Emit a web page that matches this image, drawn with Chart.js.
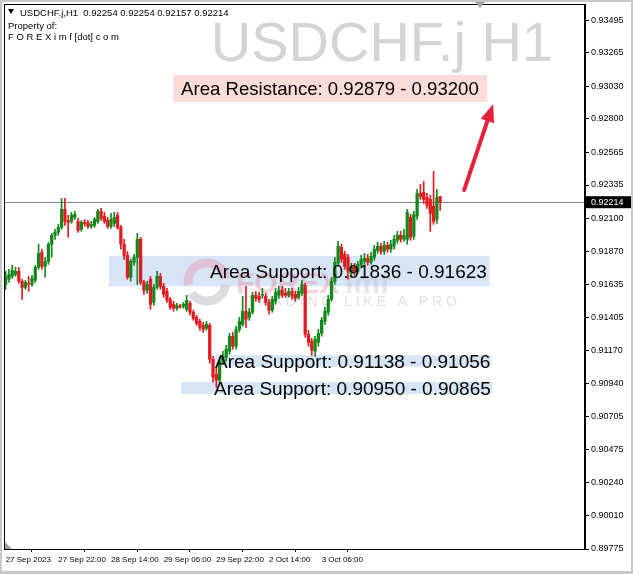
<!DOCTYPE html>
<html>
<head>
<meta charset="utf-8">
<script src="https://cdn.jsdelivr.net/npm/chart.js@4.4.0/dist/chart.umd.min.js"></script>
<style>
  html, body { margin: 0; padding: 0; background: #fff; }
</style>
</head>
<body>
<canvas id="dadosGrafico" width="633" height="574"></canvas>
<script>
// USDCHF.j H1
var openP = [0.91636,0.91672,0.91693,0.91707,0.91728,0.91658,0.91615,0.91643,0.91636,0.91665,
  0.91756,0.91861,0.91763,0.91798,0.91918,0.91981,0.92002,0.92037,0.92164,0.92086,
  0.92079,0.92107,0.92079,0.92023,0.92072,0.92072,0.92044,0.92051,0.92079,0.92150,
  0.92115,0.92086,0.92044,0.92065,0.92122,0.92037,0.91918,0.91840,0.91686,0.91791,
  0.91826,0.91953,0.91650,0.91594,0.91672,0.91510,0.91615,0.91693,0.91622,0.91587,
  0.91531,0.91496,0.91468,0.91482,0.91482,0.91461,0.91503,0.91440,0.91404,0.91376,
  0.91348,0.91327,0.91348,0.91109,0.91004,0.90962,0.91095,0.91123,0.91166,0.91271,
  0.91201,0.91320,0.91355,0.91447,0.91404,0.91440,0.91559,0.91552,0.91559,0.91552,
  0.91510,0.91454,0.91517,0.91559,0.91594,0.91573,0.91559,0.91587,0.91566,0.91545,
  0.91573,0.91629,0.91285,0.91236,0.91166,0.91229,0.91292,0.91376,0.91440,0.91531,
  0.91658,0.91784,0.91897,0.91847,0.91826,0.91714,0.91756,0.91728,0.91770,0.91798,
  0.91819,0.91791,0.91826,0.91875,0.91904,0.91868,0.91911,0.91883,0.91904,0.91946,
  0.91981,0.91953,0.91953,0.92107,0.91974,0.92115,0.92276,0.92283,0.92248,0.92234,
  0.92185,0.92093,0.92254];
var highP = [0.91728,0.91742,0.91770,0.91756,0.91756,0.91672,0.91665,0.91693,0.91700,0.91770,
  0.91918,0.91883,0.91826,0.91932,0.91995,0.92023,0.92058,0.92241,0.92241,0.92122,
  0.92143,0.92150,0.92100,0.92086,0.92093,0.92086,0.92079,0.92107,0.92164,0.92171,
  0.92143,0.92107,0.92136,0.92143,0.92143,0.92051,0.91953,0.91868,0.91812,0.91847,
  0.91995,0.91967,0.91665,0.91658,0.91693,0.91636,0.91728,0.91714,0.91643,0.91608,
  0.91545,0.91517,0.91503,0.91496,0.91510,0.91559,0.91517,0.91454,0.91419,0.91390,
  0.91369,0.91376,0.91362,0.91130,0.91053,0.91123,0.91166,0.91208,0.91292,0.91299,
  0.91341,0.91404,0.91552,0.91622,0.91468,0.91580,0.91587,0.91580,0.91608,0.91573,
  0.91531,0.91552,0.91608,0.91622,0.91622,0.91608,0.91608,0.91608,0.91587,0.91615,
  0.91665,0.91643,0.91313,0.91257,0.91271,0.91320,0.91404,0.91475,0.91559,0.91686,
  0.91826,0.91939,0.91918,0.91868,0.91847,0.91784,0.91784,0.91798,0.91840,0.91854,
  0.91847,0.91861,0.91911,0.91932,0.91925,0.91939,0.91932,0.91946,0.91981,0.92009,
  0.92009,0.92023,0.92164,0.92129,0.92150,0.92304,0.92339,0.92361,0.92276,0.92262,
  0.92431,0.92304,0.92254];
var lowP = [0.91601,0.91650,0.91679,0.91693,0.91643,0.91531,0.91601,0.91587,0.91622,0.91650,
  0.91742,0.91742,0.91686,0.91777,0.91826,0.91953,0.91981,0.92023,0.92051,0.91967,
  0.92065,0.92093,0.92002,0.92009,0.92044,0.92030,0.92030,0.92037,0.92065,0.92086,
  0.92065,0.92030,0.92030,0.92044,0.92023,0.91883,0.91812,0.91672,0.91658,0.91770,
  0.91636,0.91636,0.91566,0.91573,0.91461,0.91489,0.91601,0.91601,0.91545,0.91510,
  0.91461,0.91447,0.91454,0.91468,0.91468,0.91447,0.91419,0.91383,0.91348,0.91313,
  0.91299,0.91313,0.91081,0.90948,0.90912,0.90941,0.91074,0.91095,0.91145,0.91180,
  0.91180,0.91299,0.91341,0.91334,0.91383,0.91426,0.91517,0.91510,0.91538,0.91489,
  0.91426,0.91440,0.91496,0.91538,0.91545,0.91545,0.91545,0.91531,0.91517,0.91531,
  0.91559,0.91264,0.91201,0.91137,0.91130,0.91201,0.91271,0.91355,0.91419,0.91517,
  0.91636,0.91770,0.91791,0.91742,0.91672,0.91686,0.91700,0.91714,0.91756,0.91777,
  0.91770,0.91777,0.91805,0.91854,0.91847,0.91847,0.91861,0.91861,0.91883,0.91925,
  0.91932,0.91939,0.91918,0.91946,0.91953,0.92093,0.92234,0.92206,0.92171,0.92009,
  0.92058,0.92065,0.92157];
var closeP = [0.91693,0.91707,0.91735,0.91728,0.91658,0.91615,0.91650,0.91636,0.91679,0.91756,
  0.91854,0.91763,0.91798,0.91918,0.91981,0.92002,0.92037,0.92164,0.92079,0.92072,
  0.92122,0.92129,0.92016,0.92072,0.92065,0.92044,0.92058,0.92093,0.92150,0.92100,
  0.92079,0.92044,0.92093,0.92107,0.92037,0.91918,0.91840,0.91686,0.91798,0.91826,
  0.91953,0.91650,0.91594,0.91636,0.91496,0.91615,0.91693,0.91622,0.91566,0.91524,
  0.91475,0.91468,0.91489,0.91475,0.91496,0.91524,0.91440,0.91397,0.91362,0.91334,
  0.91320,0.91355,0.91109,0.90983,0.90962,0.91095,0.91130,0.91180,0.91271,0.91201,
  0.91320,0.91376,0.91447,0.91390,0.91440,0.91559,0.91538,0.91531,0.91566,0.91510,
  0.91454,0.91531,0.91580,0.91594,0.91559,0.91559,0.91587,0.91552,0.91538,0.91587,
  0.91636,0.91285,0.91229,0.91173,0.91250,0.91292,0.91383,0.91447,0.91531,0.91658,
  0.91791,0.91904,0.91812,0.91763,0.91728,0.91756,0.91728,0.91777,0.91812,0.91819,
  0.91791,0.91833,0.91883,0.91904,0.91868,0.91911,0.91883,0.91918,0.91953,0.91981,
  0.91953,0.91981,0.92143,0.91967,0.92129,0.92276,0.92255,0.92234,0.92192,0.92136,
  0.92079,0.92248,0.92214];

var timeLabels = ["27 Sep 2023", "27 Sep 22:00", "28 Sep 14:00", "29 Sep 06:00", "29 Sep 22:00", "2 Oct 14:00", "3 Oct 06:00"];
var yTicks = [0.93495, 0.93265, 0.93030, 0.92800, 0.92565, 0.92335, 0.92100, 0.91870, 0.91635,
  0.91405, 0.91170, 0.90940, 0.90705, 0.90475, 0.90240, 0.90010, 0.89775];
var lastPrice = 0.92214;
var zoneTexts = ["Area Support: 0.91836 - 0.91623", "Area Support: 0.91138 - 0.91056", "Area Support: 0.90950 - 0.90865"];
var zoneTop = [0.91836, 0.91138, 0.90950];
var zoneBottom = [0.91623, 0.91056, 0.90865];
var resistText = "Area Resistance: 0.92879 - 0.93200";

var verde = "#14891b";
var vermelho = "#e01b22";
var barsPerLabel = 16;

var idx = openP.map(function (v, i) { return i; });
var cores = idx.map(function (i) { return closeP[i] >= openP[i] ? verde : vermelho; });

var desenhos = {
  id: "desenhos",
  beforeDraw: function (chart) {
    var c = chart.ctx;
    c.save();
    c.fillStyle = "#fff";
    c.fillRect(0, 0, chart.width, chart.height);
    // moldura
    c.fillStyle = "#c8c8c8";
    c.fillRect(0, 0, chart.width, 2);
    c.fillRect(0, 0, 2, chart.height);
    c.fillRect(chart.width - 2, 0, 2, chart.height);
    c.fillRect(0, chart.height - 3, chart.width, 3);
    // marca d'agua do simbolo
    c.fillStyle = "#d4d4d4";
    c.font = "56px 'Liberation Sans', Arial, sans-serif";
    c.textAlign = "right";
    c.textBaseline = "alphabetic";
    c.fillText("USDCHF.j H1", 553, 61);
    c.restore();
  },
  beforeDatasetsDraw: function (chart) {
    var c = chart.ctx, xs = chart.scales.x, ys = chart.scales.y, a = chart.chartArea;
    var de = [31.4, 63.6, 53.3], ate = [147.0, 147.6, 147.8];
    c.save();
    c.fillStyle = "#d6e6f6";
    for (var k = 0; k < zoneTexts.length; k++) {
      var x0 = xs.getPixelForValue(de[k]), x1 = xs.getPixelForValue(ate[k]);
      var y0 = ys.getPixelForValue(zoneTop[k]), y1 = ys.getPixelForValue(zoneBottom[k]);
      c.fillRect(x0, y0, x1 - x0, y1 - y0);
    }
    // logo FOREXimf (marca d'agua)
    c.globalAlpha = 0.35;
    c.lineWidth = 9;
    c.strokeStyle = "#f07a9a";
    c.beginPath();
    c.arc(207, 282, 19, Math.PI * 0.95, Math.PI * 1.95);
    c.stroke();
    c.strokeStyle = "#9a9aa6";
    c.beginPath();
    c.arc(207, 282, 19, Math.PI * 0.05, Math.PI * 0.8);
    c.stroke();
    c.font = "bold 30px 'Liberation Sans', Arial, sans-serif";
    c.textAlign = "left";
    c.fillStyle = "#e87c98";
    c.fillText("FOREX", 236, 293);
    c.fillStyle = "#b9b9c4";
    c.fillText("imf", 345, 293);
    c.font = "14px 'Liberation Sans', Arial, sans-serif";
    c.fillStyle = "#a5a5ae";
    c.fillText("T R A D I N G   L I K E   A   P R O", 246, 306);
    c.globalAlpha = 1;
    // linha do preco atual
    var yp = Math.round(ys.getPixelForValue(lastPrice)) + 0.5;
    c.strokeStyle = "#808080";
    c.lineWidth = 1;
    c.beginPath();
    c.moveTo(a.left, yp);
    c.lineTo(a.right, yp);
    c.stroke();
    c.restore();
  },
  afterDatasetsDraw: function (chart) {
    var c = chart.ctx, xs = chart.scales.x, ys = chart.scales.y, a = chart.chartArea;
    c.save();
    c.font = "19px 'Liberation Sans', Arial, sans-serif";
    c.fillStyle = "#000";
    c.textAlign = "left";
    c.textBaseline = "alphabetic";
    var tx = [62.1, 63.6, 63.3];
    for (var k = 0; k < zoneTexts.length; k++) {
      var yc = (ys.getPixelForValue(zoneTop[k]) + ys.getPixelForValue(zoneBottom[k])) / 2;
      c.fillText(zoneTexts[k], xs.getPixelForValue(tx[k]), yc + 7);
    }
    // caixa da resistencia
    var rx0 = xs.getPixelForValue(50.9), rx1 = xs.getPixelForValue(146.3);
    var ry0 = ys.getPixelForValue(0.93109), ry1 = ys.getPixelForValue(0.92919);
    c.fillStyle = "#fbdcd6";
    c.fillRect(rx0, ry0, rx1 - rx0, ry1 - ry0);
    c.fillStyle = "#000";
    c.font = "18.6px 'Liberation Sans', Arial, sans-serif";
    c.fillText(resistText, xs.getPixelForValue(53.3), (ry0 + ry1) / 2 + 7);
    // seta
    var ax0 = xs.getPixelForValue(139.3), ay0 = ys.getPixelForValue(0.92300);
    var ax1 = xs.getPixelForValue(148.1), ay1 = ys.getPixelForValue(0.92905);
    var ang = Math.atan2(ay1 - ay0, ax1 - ax0);
    c.strokeStyle = "#e8203c";
    c.fillStyle = "#e8203c";
    c.lineWidth = 4;
    c.lineCap = "round";
    c.beginPath();
    c.moveTo(ax0, ay0);
    c.lineTo(ax1 - 14 * Math.cos(ang), ay1 - 14 * Math.sin(ang));
    c.stroke();
    c.beginPath();
    c.moveTo(ax1, ay1);
    c.lineTo(ax1 - 18 * Math.cos(ang) + 7 * Math.sin(ang), ay1 - 18 * Math.sin(ang) - 7 * Math.cos(ang));
    c.lineTo(ax1 - 18 * Math.cos(ang) - 7 * Math.sin(ang), ay1 - 18 * Math.sin(ang) + 7 * Math.cos(ang));
    c.closePath();
    c.fill();
    // textos do canto
    c.fillStyle = "#000";
    c.font = "9.5px 'Liberation Sans', Arial, sans-serif";
    c.fillText("USDCHF.j,H1  " + [openP[132], highP[132], lowP[132], closeP[132]].map(function (v) { return v.toFixed(5); }).join(" "), 20, 16);
    c.fillText("Property of:", 8, 29);
    c.fillText("F O R E X i m f [dot] c o m", 8, 40);
    c.beginPath();
    c.moveTo(8, 9); c.lineTo(14, 9); c.lineTo(11, 14); c.closePath();
    c.fill();
    // borda da area do grafico
    c.strokeStyle = "#000";
    c.lineWidth = 1;
    c.strokeRect(a.left + 0.5, a.top + 0.5, a.right - a.left - 1, a.bottom - a.top);
    // marcadores cinza
    c.fillStyle = "#a0a0a0";
    c.beginPath();
    c.moveTo(475, 2); c.lineTo(485, 2); c.lineTo(480, 8); c.closePath();
    c.fill();
    c.beginPath();
    c.moveTo(a.left + 1, a.bottom - 7); c.lineTo(a.left + 1, a.bottom); c.lineTo(a.left + 8, a.bottom); c.closePath();
    c.fill();
    // etiqueta do preco atual
    var yp = ys.getPixelForValue(lastPrice);
    c.fillStyle = "#000";
    c.fillRect(a.right + 1, yp - 6, 45, 12);
    c.fillStyle = "#fff";
    c.font = "9px 'Liberation Sans', Arial, sans-serif";
    c.textBaseline = "middle";
    c.fillText(lastPrice.toFixed(5), a.right + 6, yp + 0.5);
    c.restore();
  }
};

var ctx = document.getElementById("dadosGrafico").getContext("2d");

var grafico = new Chart(ctx, {
  type: "bar",
  data: {
    datasets: [{
      data: idx.map(function (i) { return { x: i, y: [lowP[i], highP[i]] }; }),
      backgroundColor: cores,
      barThickness: 1,
      grouped: false
    }, {
      data: idx.map(function (i) { return { x: i, y: [Math.min(openP[i], closeP[i]), Math.max(openP[i], closeP[i])] }; }),
      backgroundColor: cores,
      barThickness: 2.6,
      minBarLength: 1,
      grouped: false
    }]
  },
  options: {
    responsive: false,
    animation: false,
    layout: { padding: { left: 4, top: 4, right: 0, bottom: 0 } },
    scales: {
      x: {
        type: "linear",
        min: -0.5,
        max: 176,
        offset: false,
        grid: { drawOnChartArea: false, tickLength: 3, color: "#000" },
        border: { display: true, color: "#000" },
        afterBuildTicks: function (s) {
          s.ticks = timeLabels.map(function (t, k) { return { value: k * barsPerLabel }; });
        },
        afterFit: function (s) { s.height = 25; s.paddingLeft = 0; s.paddingRight = 0; },
        ticks: {
          autoSkip: false,
          maxRotation: 0,
          align: "start",
          padding: 3,
          color: "#000",
          font: { family: "'Liberation Sans', Arial, sans-serif", size: 8 },
          callback: function (v) { return timeLabels[Math.round(v / barsPerLabel)]; }
        }
      },
      y: {
        type: "linear",
        position: "right",
        min: 0.89775,
        max: 0.93608,
        grid: { drawOnChartArea: false, tickLength: 4, color: "#000" },
        border: { display: true, color: "#000" },
        afterBuildTicks: function (s) {
          s.ticks = yTicks.map(function (v) { return { value: v }; });
        },
        afterFit: function (s) { s.width = 48; s.paddingTop = 0; s.paddingBottom = 0; },
        ticks: {
          padding: 2,
          color: "#000",
          font: { family: "'Liberation Sans', Arial, sans-serif", size: 9 },
          callback: function (v) { return v.toFixed(5); }
        }
      }
    },
    plugins: {
      legend: { display: false },
      tooltip: { enabled: false },
      title: { display: false }
    }
  },
  plugins: [desenhos]
});
</script>
</body>
</html>
